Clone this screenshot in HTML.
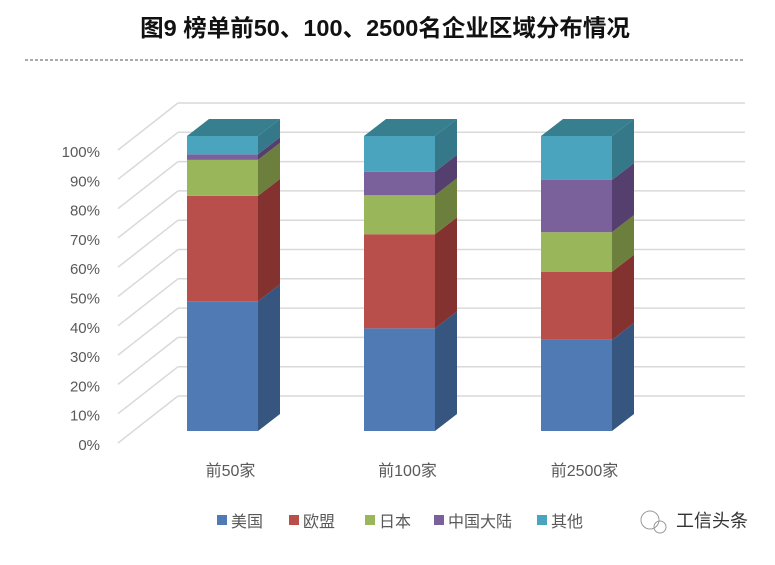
<!DOCTYPE html>
<html><head><meta charset="utf-8"><style>
html,body{margin:0;padding:0;background:#fff;}
svg text{font-family:"Liberation Sans","Noto Sans CJK SC",sans-serif;}
</style></head><body>
<svg width="775" height="560" viewBox="0 0 775 560" xmlns="http://www.w3.org/2000/svg">
<text x="385" y="36" text-anchor="middle" font-size="23.5" font-weight="bold" fill="#111">图9 榜单前50、100、2500名企业区域分布情况</text>
<line x1="25" y1="60" x2="745" y2="60" stroke="#555" stroke-width="1" stroke-dasharray="3,2"/>
<g id="grid"></g>
<g id="ylabels"></g>
<g id="bars"></g>
<g id="xlabels"></g>
<g id="legend"></g>
<g>
<circle cx="650" cy="520" r="9" fill="none" stroke="#999" stroke-width="1"/>
<circle cx="660" cy="527" r="6" fill="none" stroke="#999" stroke-width="1"/>
<text x="676" y="527" font-size="18" fill="#333">工信头条</text>
</g>
</svg>
<script>
const categories = ["前50家","前100家","前2500家"];
const seriesNames = ["美国","欧盟","日本","中国大陆","其他"];
const usa = [44, 34.8, 30.9];
const eu = [35.7, 31.9, 23.1];
const japan = [12.2, 13.2, 13.4];
const china = [1.9, 8.0, 17.7];
const other = [6.2, 12.1, 14.9];
const tickLabels = ["0%","10%","20%","30%","40%","50%","60%","70%","80%","90%","100%"];

const series = [usa, eu, japan, china, other];
const front = ["#4f7ab3","#b84f4b","#9ab65a","#7a619b","#4ba4bd"];
const side = ["#36567f","#83322f","#6c7f3c","#553f6e","#357889"];
const topC = "#377f8f";
const NS = "http://www.w3.org/2000/svg";
function mk(tag, attrs, parent){const e=document.createElementNS(NS,tag);for(const k in attrs)e.setAttribute(k,attrs[k]);parent.appendChild(e);return e;}

const yFront = v => 443 - v/100*293;
const yBack = v => 396 - v/100*293;
const yBar = v => 431 - v/100*295;
const barX = i => 187 + i*177;
const barW = 71, dX = 22, dY = 17;

const grid = document.getElementById('grid');
const yl = document.getElementById('ylabels');
tickLabels.forEach((t,i)=>{
  const v = i*10;
  const l1 = mk('line',{x1:118,y1:yFront(v),x2:178,y2:yBack(v),stroke:"#d9d9d9","stroke-width":1.5},grid);
  
  
  const l2 = mk('line',{x1:178,y1:yBack(v),x2:745,y2:yBack(v),stroke:"#d9d9d9","stroke-width":1.5},grid);
  
  
  const tx = mk('text',{x:100,y:yFront(v)+7,"text-anchor":"end","font-size":15,fill:"#595959"},yl);
  tx.textContent = t;
  
  
});

const bars = document.getElementById('bars');
categories.forEach((c,i)=>{
  let cum = 0;
  const x = barX(i);
  series.forEach((s,j)=>{
    const y0 = yBar(cum), y1 = yBar(cum + s[i]);
    cum += s[i];
    const r = mk('rect',{x:x,y:y1,width:barW,height:y0-y1,fill:front[j]},bars);
    
    
    const p = mk('polygon',{points:`${x+barW},${y0} ${x+barW+dX},${y0-dY} ${x+barW+dX},${y1-dY} ${x+barW},${y1}`,fill:side[j]},bars);
    
    
  });
  const yt = yBar(cum);
  const t = mk('polygon',{points:`${x},${yt} ${x+dX},${yt-dY} ${x+barW+dX},${yt-dY} ${x+barW},${yt}`,fill:topC},bars);
  
  
  const lab = mk('text',{x:x+barW/2+8,y:476,"text-anchor":"middle","font-size":16,fill:"#595959"},document.getElementById('xlabels'));
  lab.textContent = c;
  
  
});

const lg = document.getElementById('legend');
const lx = [217, 289, 365, 434, 537];
seriesNames.forEach((n,j)=>{
  const g = mk('g',{},lg);
  
  
  mk('rect',{x:lx[j],y:515,width:10,height:10,fill:front[j]},g);
  const t = mk('text',{x:lx[j]+14,y:527,"font-size":16,fill:"#595959"},g);
  t.textContent = n;
});
</script>
</body></html>
